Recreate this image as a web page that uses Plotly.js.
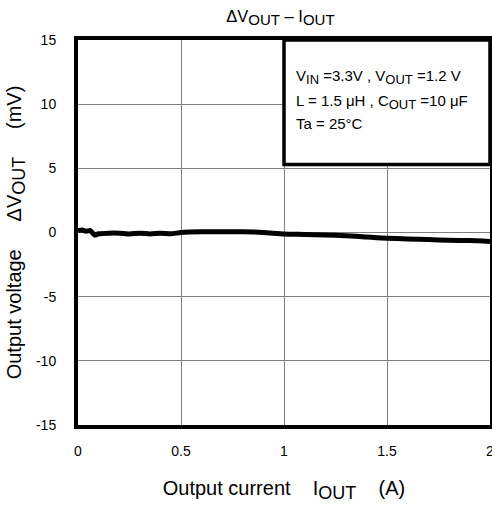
<!DOCTYPE html>
<html>
<head>
<meta charset="utf-8">
<script src="https://cdn.plot.ly/plotly-3.0.1.min.js"></script>
<style>html,body{margin:0;padding:0;background:#fff;}#chart{width:492px;height:506px;}</style>
</head>
<body>
<div id="chart"></div>
<script>
// Output current (A)
const iout = [0, 0.02, 0.04, 0.06, 0.08, 0.1, 0.15, 0.2, 0.25, 0.3, 0.35, 0.4, 0.45, 0.5, 0.6, 0.7, 0.8, 0.9, 1.0, 1.1, 1.2, 1.3, 1.4, 1.5, 1.6, 1.7, 1.8, 1.9, 2.0];
// Delta Vout (mV)
const dvout = [0.15, 0.2, 0.1, 0.15, -0.2, -0.1, -0.05, -0.05, -0.12, -0.05, -0.12, -0.05, -0.1, 0.0, 0.05, 0.05, 0.05, 0.0, -0.12, -0.15, -0.2, -0.25, -0.35, -0.45, -0.5, -0.55, -0.6, -0.63, -0.7];
const xTicks = [0, 0.5, 1, 1.5, 2];
const xTickText = ['0', '0.5', '1', '1.5', '2'];
const yTicks = [-15, -10, -5, 0, 5, 10, 15];
const yTickText = ['-15', '-10', '-5', '0', '5', '10', '15'];

const FONT = 'Liberation Sans, Arial, sans-serif';
function sub(t, size) { return '<sub><span style="font-size:' + size + 'px">' + t + '</span></sub>'; }
const SP4 = '\u00a0\u00a0\u00a0\u00a0';
const SP5 = '\u00a0\u00a0\u00a0\u00a0\u00a0';

const condLines = [
  'V' + sub('IN', 13) + ' =3.3V , V' + sub('OUT', 13) + ' =1.2 V',
  'L = 1.5 \u03bcH , C' + sub('OUT', 13) + ' =10 \u03bcF',
  'Ta = 25\u00b0C'
];
const condY = [12.1, 10.2, 8.5];

const data = [{
  x: iout, y: dvout, type: 'scatter', mode: 'lines',
  line: {color: '#000', width: 5, shape: 'spline', smoothing: 0.6},
  hoverinfo: 'skip'
}];

const annotations = condLines.map((t, i) => ({
  x: 1.05, y: condY[i], xref: 'x', yref: 'y', text: t, showarrow: false,
  xanchor: 'left', yanchor: 'middle', font: {family: FONT, size: 15, color: '#000'}
}));

const layout = {
  width: 492, height: 506,
  margin: {l: 78, r: 2, t: 40, b: 81},
  paper_bgcolor: '#fff', plot_bgcolor: '#fff',
  font: {family: FONT, color: '#000', size: 14},
  showlegend: false,
  title: {text: '\u0394V' + sub('OUT', 15) + ' \u2013 I' + sub('OUT', 15), x: 0.57, xanchor: 'center', y: 0.968, yanchor: 'middle', font: {family: FONT, size: 16.5, color: '#000'}},
  xaxis: {
    range: [0, 2], tickvals: xTicks, ticktext: xTickText,
    showgrid: true, gridcolor: '#808080', gridwidth: 1,
    zeroline: false, showline: true, linecolor: '#000', linewidth: 4, mirror: true,
    ticks: '', ticklabelstandoff: 10, ticklabeloverflow: 'allow',
    tickfont: {family: FONT, size: 14, color: '#000'},
    title: {text: 'Output current' + SP4 + 'I' + sub('OUT', 18) + SP4 + '(A)', standoff: 24, font: {family: FONT, size: 20, color: '#000'}}
  },
  yaxis: {
    range: [-15, 15], tickvals: yTicks, ticktext: yTickText,
    showgrid: true, gridcolor: '#808080', gridwidth: 1,
    zeroline: false, showline: true, linecolor: '#000', linewidth: 4, mirror: true,
    ticks: '', ticklabelstandoff: 15,
    tickfont: {family: FONT, size: 14, color: '#000'},
    title: {text: 'Output voltage' + SP5 + '\u0394V' + sub('OUT', 18) + SP5 + '(mV)', standoff: 10, font: {family: FONT, size: 20, color: '#000'}}
  },
  shapes: [{
    type: 'rect', xref: 'x', yref: 'y', x0: 1.0, x1: 2.0, y0: 5.3, y1: 15,
    line: {color: '#000', width: 3.5}, fillcolor: '#fff', layer: 'above'
  }],
  annotations: annotations
};

Plotly.newPlot('chart', data, layout, {displayModeBar: false, staticPlot: true});
</script>
</body>
</html>
